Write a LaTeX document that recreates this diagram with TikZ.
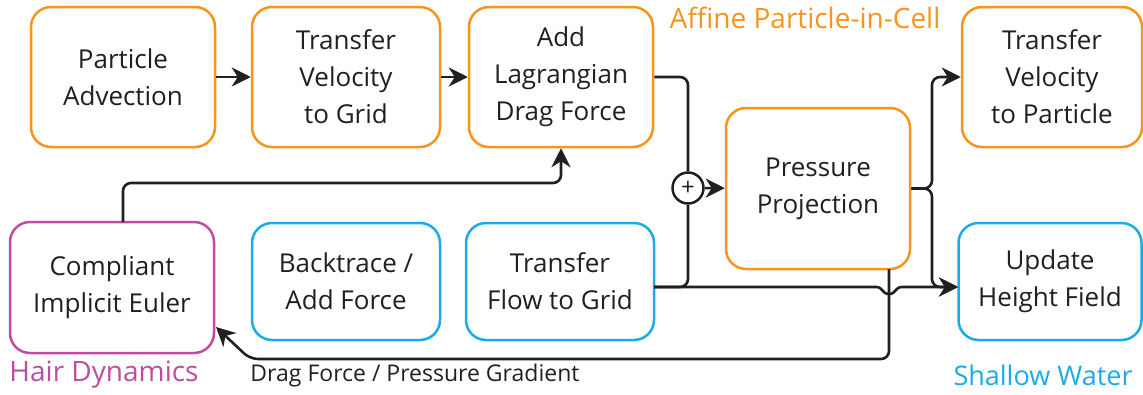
\documentclass[tikz,border=0pt]{standalone}
\usepackage{fontspec}
\setmainfont{Open Sans}
\usetikzlibrary{arrows.meta,calc}
\definecolor{apic}{HTML}{F7941E}
\definecolor{swblue}{HTML}{1BABE6}
\definecolor{hair}{HTML}{BF4C9F}
\definecolor{ink}{HTML}{231F20}
\tikzset{
  box/.style={draw, rounded corners=20pt, line width=2.5pt, align=center,
    text=ink, fill=white, inner sep=0pt,
    font=\fontsize{26}{37}\selectfont},
  apicbox/.style={box, draw=apic},
  swbox/.style={box, draw=swblue},
  hairbox/.style={box, draw=hair},
  conn/.style={line width=2.6pt, draw=ink},
  softturn/.style={rounded corners=8pt},
  tip/.style={-{Stealth[length=19pt,width=19pt,inset=6pt,sharp]}},
  grouplabel/.style={font=\fontsize{28}{30}\selectfont, inner sep=0pt},
}
\begin{document}
\begin{tikzpicture}[x=1pt,y=-1pt]
\useasboundingbox (0,0) rectangle (1143,394);

% Affine Particle-in-Cell stages
\node[apicbox, minimum width=184pt, minimum height=140pt] (pa)  at (123,77)  {Particle\\Advection};
\node[apicbox, minimum width=188pt, minimum height=140pt] (tvg) at (346,77)  {Transfer\\Velocity\\to Grid};
\node[apicbox, minimum width=184pt, minimum height=140pt] (ald) at (561,77)  {Add\\Lagrangian\\Drag Force};
\node[apicbox, minimum width=180pt, minimum height=140pt] (tvp) at (1052,77) {Transfer\\Velocity\\to Particle};
\node[apicbox, minimum width=184pt, minimum height=161pt] (pp)  at (818,188.5) {Pressure\\Projection};

% Shallow water stages
\node[swbox, minimum width=188pt, minimum height=117pt] (bt)  at (346,281.5) {Backtrace /\\Add Force};
\node[swbox, minimum width=188pt, minimum height=117pt] (tfg) at (560,281.5) {Transfer\\Flow to Grid};
\node[swbox, minimum width=183pt, minimum height=117pt] (uhf) at (1050,281.5) {Update\\Height Field};

% Hair dynamics stage
\node[hairbox, minimum width=204pt, minimum height=131pt] (cie) at (112,287.5) {Compliant\\Implicit Euler};

% summing junction
\node[draw=ink, line width=2.5pt, circle, minimum size=31pt, inner sep=0pt, fill=white,
      font=\fontsize{24}{24}\selectfont, text=ink] (plus) at (688,188) {+};

% group labels
\node[grouplabel, text=apic]   (lapic) at (805,18)  {Affine Particle-in-Cell};
\node[grouplabel, text=hair]   (lhair) at (104,375) {Hair Dynamics};
\node[grouplabel, text=swblue, font=\fontsize{27}{30}\selectfont] (lsw) at (1043,375) {Shallow Water};
\node[font=\fontsize{23}{26}\selectfont, text=ink, inner sep=0pt] (ldrag) at (415,376) {Drag Force / Pressure Gradient};

% connector end points
\coordinate (tfgout) at (654,287);
\coordinate (uhfin)  at (958,287);
\coordinate (ppout)  at (889,269);
\coordinate (ciein)  at (216,327);
\coordinate (cieup)  at (123,222);

% connectors
\draw[conn, tip] (pa) -- (tvg);
\draw[conn, tip] (tvg) -- (ald);
\draw[conn, softturn] (ald.east) -| (plus.north);
\draw[conn, softturn] (tfgout) -| (plus.south);
\draw[conn, tip] (plus) -- (pp);
\draw[conn, softturn, tip] (pp.east) -- (932,188.5) |- (tvp.west);
\draw[conn, softturn, tip] (pp.east) -- (932,188.5) |- (uhfin);
\draw[conn, softturn, tip] (ppout) -- (889,359) -- (250,359) -- (ciein);
\draw[conn, tip] (tfgout) -- (876,287)
   .. controls (883,287) and (882,294) .. (889,294)
   .. controls (896,294) and (895,287) .. (902,287) -- (uhfin);
\draw[conn, softturn, tip] (cieup) -- (123,183) -| (ald.south);
\end{tikzpicture}
\end{document}
